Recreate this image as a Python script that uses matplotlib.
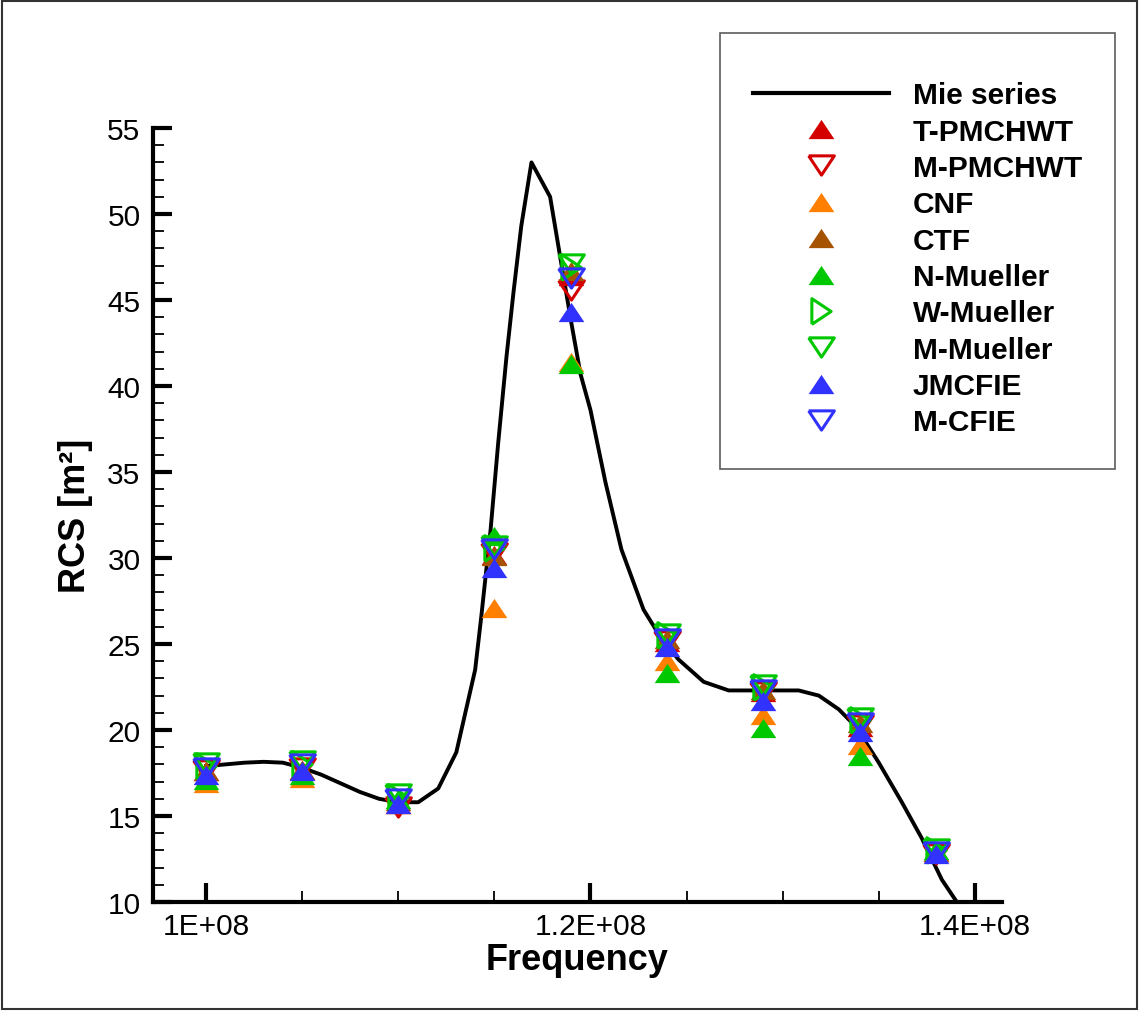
import numpy as np
import matplotlib.pyplot as plt
from matplotlib.patches import Rectangle

plt.rcParams['font.family'] = ['Liberation Sans', 'DejaVu Sans']

# Mie series reference curve (frequency in Hz, RCS in m^2)
mie_freq = [1.000e8, 1.010e8, 1.020e8, 1.030e8, 1.040e8, 1.050e8, 1.060e8,
            1.070e8, 1.080e8, 1.090e8, 1.100e8, 1.1104e8, 1.1208e8, 1.1302e8,
            1.140e8, 1.1432e8, 1.148e8, 1.152e8, 1.1563e8, 1.160e8, 1.164e8,
            1.1693e8, 1.179e8, 1.185e8, 1.190e8, 1.1948e8, 1.200e8, 1.2078e8,
            1.2161e8, 1.2276e8, 1.237e8, 1.2458e8, 1.2589e8, 1.2719e8,
            1.2911e8, 1.3083e8, 1.3188e8, 1.3292e8, 1.338e8, 1.350e8,
            1.362e8, 1.3724e8, 1.3828e8, 1.3906e8, 1.393e8]
mie_rcs = [17.9, 18.0, 18.1, 18.15, 18.1, 17.8, 17.4,
           16.9, 16.4, 16.0, 15.8, 15.8, 16.6, 18.7,
           23.5, 26.6, 31.6, 36.7, 41.7, 45.5, 49.3,
           53.0, 51.0, 47.0, 43.7, 40.7, 38.6, 34.4,
           30.5, 27.0, 25.3, 24.1, 22.8, 22.3,
           22.3, 22.3, 22.0, 21.2, 20.2, 18.1,
           15.8, 13.7, 11.3, 10.0, 9.4]

# numerical results at the sampled frequencies
freq = [1.00e8, 1.05e8, 1.10e8, 1.15e8, 1.19e8, 1.24e8, 1.29e8, 1.34e8, 1.38e8]
t_pmchwt = [17.6, 17.7, 15.7, 30.2, 46.4, 25.1, 22.2, 20.2, 12.9]
m_pmchwt = [17.7, 17.8, 15.5, 30.3, 45.6, 25.2, 22.2, 20.3, 12.8]
cnf      = [16.9, 17.2, 15.7, 27.1, 41.4, 24.0, 20.9, 19.1, 12.9]
ctf      = [17.6, 17.7, 15.9, 30.1, 46.7, 25.3, 22.3, 20.4, 12.9]
n_mueller = [17.1, 17.4, 16.0, 31.3, 41.3, 23.3, 20.1, 18.5, 13.0]
w_mueller = [17.9, 18.0, 16.1, 30.6, 46.9, 25.5, 22.5, 20.6, 13.0]
m_mueller = [18.1, 18.2, 16.3, 30.7, 47.1, 25.6, 22.6, 20.7, 13.1]
jmcfie   = [17.4, 17.6, 15.7, 29.4, 44.3, 24.8, 21.7, 19.9, 12.8]
m_cfie   = [17.8, 18.0, 16.0, 30.5, 46.3, 25.3, 22.3, 20.4, 12.9]

labels = ['T-PMCHWT', 'M-PMCHWT', 'CNF', 'CTF', 'N-Mueller',
          'W-Mueller', 'M-Mueller', 'JMCFIE', 'M-CFIE']
series = [t_pmchwt, m_pmchwt, cnf, ctf, n_mueller,
          w_mueller, m_mueller, jmcfie, m_cfie]

red, orange, brown = '#d40000', '#ff8000', '#a65300'
green, blue = '#00c800', '#3232ff'

# wide, flat triangles like the tecplot symbols
up = [(-1, -0.75), (1, -0.75), (0, 0.75), (-1, -0.75)]
down = [(-1, 0.75), (1, 0.75), (0, -0.75), (-1, 0.75)]
right = [(-0.75, -1), (-0.75, 1), (0.75, 0), (-0.75, -1)]

# (marker, color, filled)
styles = [(up, red, True), (down, red, False), (up, orange, True),
          (up, brown, True), (up, green, True), (right, green, False),
          (down, green, False), (up, blue, True), (down, blue, False)]

fig = plt.figure(figsize=(11.39, 10.12), dpi=100)
ax = fig.add_axes([153 / 1139, 1 - 903 / 1012, (1002 - 153) / 1139, (903 - 129) / 1012])

mie, = ax.plot(mie_freq, mie_rcs, color='black', lw=2.8, label='Mie series', zorder=2)
handles = [mie]
for vals, lab, (mk, col, filled) in zip(series, labels, styles):
    h, = ax.plot(freq, vals, linestyle='none', marker=mk, markersize=18.5,
                 markerfacecolor=col if filled else 'none',
                 markeredgecolor=col, markeredgewidth=0 if filled else 2.2,
                 label=lab, zorder=3)
    handles.append(h)

ax.set_xlim(0.9724e8, 1.4141e8)
ax.set_ylim(10, 55)
ax.set_xticks([1.0e8, 1.2e8, 1.4e8])
ax.set_xticklabels(['1E+08', '1.2E+08', '1.4E+08'])
ax.set_xticks(np.arange(1.0e8, 1.41e8, 0.05e8), minor=True)
ax.set_yticks(np.arange(10, 56, 5))
ax.set_yticks(np.arange(10, 56, 1), minor=True)

for side in ['top', 'right']:
    ax.spines[side].set_visible(False)
for side in ['left', 'bottom']:
    ax.spines[side].set_linewidth(3)
ax.tick_params(which='major', direction='in', length=14, width=3, labelsize=21.5, pad=9)
ax.tick_params(which='minor', direction='in', length=8, width=1.3)
ax.tick_params(axis='x', which='major', pad=7)

ax.set_xlabel('Frequency', fontsize=26, fontweight='bold', labelpad=2)
ax.set_ylabel('RCS [m²]', fontsize=26, fontweight='bold', labelpad=10)

leg = fig.legend(handles=handles, loc='upper right',
                 bbox_to_anchor=(1115 / 1139, 1 - 34 / 1012),
                 prop={'weight': 'bold', 'size': 21.5},
                 frameon=True, fancybox=False, edgecolor='#333333',
                 handlelength=4.55, handletextpad=0.8, labelspacing=0.28,
                 borderpad=1.1, borderaxespad=0, title=' ', title_fontsize=5)
leg.get_frame().set_linewidth(1.2)
leg.legend_handles[0].set_linewidth(3)

# thin frame around the whole picture
fig.patches.append(Rectangle((0.002, 0.002), 0.996, 0.996, transform=fig.transFigure,
                             fill=False, edgecolor='#333333', lw=1.5))

fig.savefig('out.png', dpi=100)
